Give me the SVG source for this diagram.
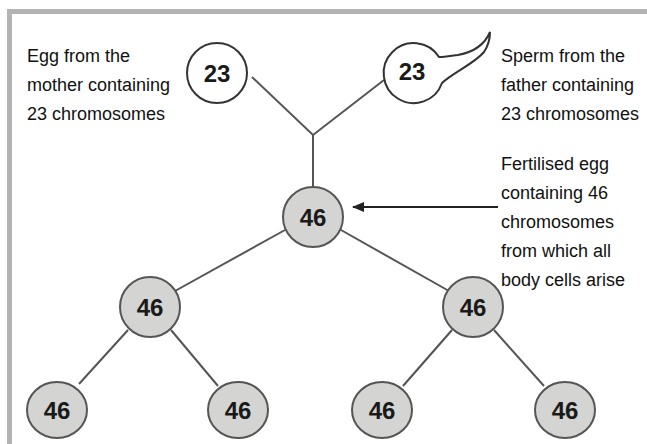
<svg xmlns="http://www.w3.org/2000/svg" width="647" height="444" viewBox="0 0 647 444">
<style>
.lbl{font-family:"Liberation Sans",Arial,sans-serif;font-size:18px;fill:#111}
.num{font-family:"Liberation Sans",Arial,sans-serif;font-size:24px;font-weight:bold;fill:#1a1a1a;text-anchor:middle;dominant-baseline:central}
.gam{fill:#fff;stroke:#333;stroke-width:2}
.cell{fill:#d4d4d2;stroke:#555;stroke-width:2}
.con{stroke:#555;stroke-width:2;fill:none}
</style>
<defs>
<marker id="ah" markerWidth="12" markerHeight="10" refX="11" refY="5" orient="auto" markerUnits="userSpaceOnUse">
<path d="M0,0 L12,5 L0,10 z" fill="#222"/>
</marker>
</defs>
<rect x="0" y="0" width="647" height="444" fill="#fff"/>
<g id="frame" fill="#b3b3b3">
<rect x="7" y="9" width="640" height="5"/>
<rect x="7" y="9" width="5" height="435"/>
</g>
<g id="connectors">
<polyline class="con" points="252,77 313,135 384,80"/>
<line class="con" x1="313" y1="135" x2="313" y2="187"/>
<line class="con" x1="285" y1="230" x2="175" y2="291"/>
<line class="con" x1="341" y1="230" x2="449" y2="291"/>
<line class="con" x1="128" y1="330" x2="79" y2="384"/>
<line class="con" x1="171" y1="330" x2="218" y2="386"/>
<line class="con" x1="452" y1="330" x2="403" y2="386"/>
<line class="con" x1="494" y1="330" x2="544" y2="386"/>
<line x1="498" y1="207" x2="353" y2="207" stroke="#222" stroke-width="2" marker-end="url(#ah)"/>
</g>
<g id="egg">
<circle class="gam" cx="217" cy="73" r="30"/>
<text class="num" x="217" y="73">23</text>
</g>
<g id="sperm">
<path class="gam" d="M439,57 A30,30 0 1 0 442,83 C452,73 474,64 484,52 C488,46 490,40 490,32 C485,44 474,52 458,55 C450,56 445,57 439,57 z"/>
<text class="num" x="412" y="71">23</text>
</g>
<g id="zygote">
<circle class="cell" cx="313" cy="217" r="30"/>
<text class="num" x="313" y="217">46</text>
</g>
<g id="cell-l">
<circle class="cell" cx="150" cy="307" r="30"/>
<text class="num" x="150" y="307">46</text>
</g>
<g id="cell-r">
<circle class="cell" cx="473" cy="307" r="30"/>
<text class="num" x="473" y="307">46</text>
</g>
<g id="cell-ll">
<ellipse class="cell" cx="57" cy="410" rx="30" ry="28"/>
<text class="num" x="57" y="410">46</text>
</g>
<g id="cell-lr">
<ellipse class="cell" cx="238" cy="410" rx="30" ry="28"/>
<text class="num" x="238" y="410">46</text>
</g>
<g id="cell-rl">
<ellipse class="cell" cx="382" cy="410" rx="30" ry="28"/>
<text class="num" x="382" y="410">46</text>
</g>
<g id="cell-rr">
<ellipse class="cell" cx="565" cy="410" rx="30" ry="28"/>
<text class="num" x="565" y="410">46</text>
</g>
<g id="label-egg">
<text class="lbl" x="27" y="62">Egg from the</text>
<text class="lbl" x="27" y="91">mother containing</text>
<text class="lbl" x="27" y="120">23 chromosomes</text>
</g>
<g id="label-sperm">
<text class="lbl" x="501" y="62">Sperm from the</text>
<text class="lbl" x="501" y="91">father containing</text>
<text class="lbl" x="501" y="120">23 chromosomes</text>
</g>
<g id="label-zygote">
<text class="lbl" x="501" y="170">Fertilised egg</text>
<text class="lbl" x="501" y="199">containing 46</text>
<text class="lbl" x="501" y="228">chromosomes</text>
<text class="lbl" x="501" y="257">from which all</text>
<text class="lbl" x="501" y="286">body cells arise</text>
</g>
</svg>
